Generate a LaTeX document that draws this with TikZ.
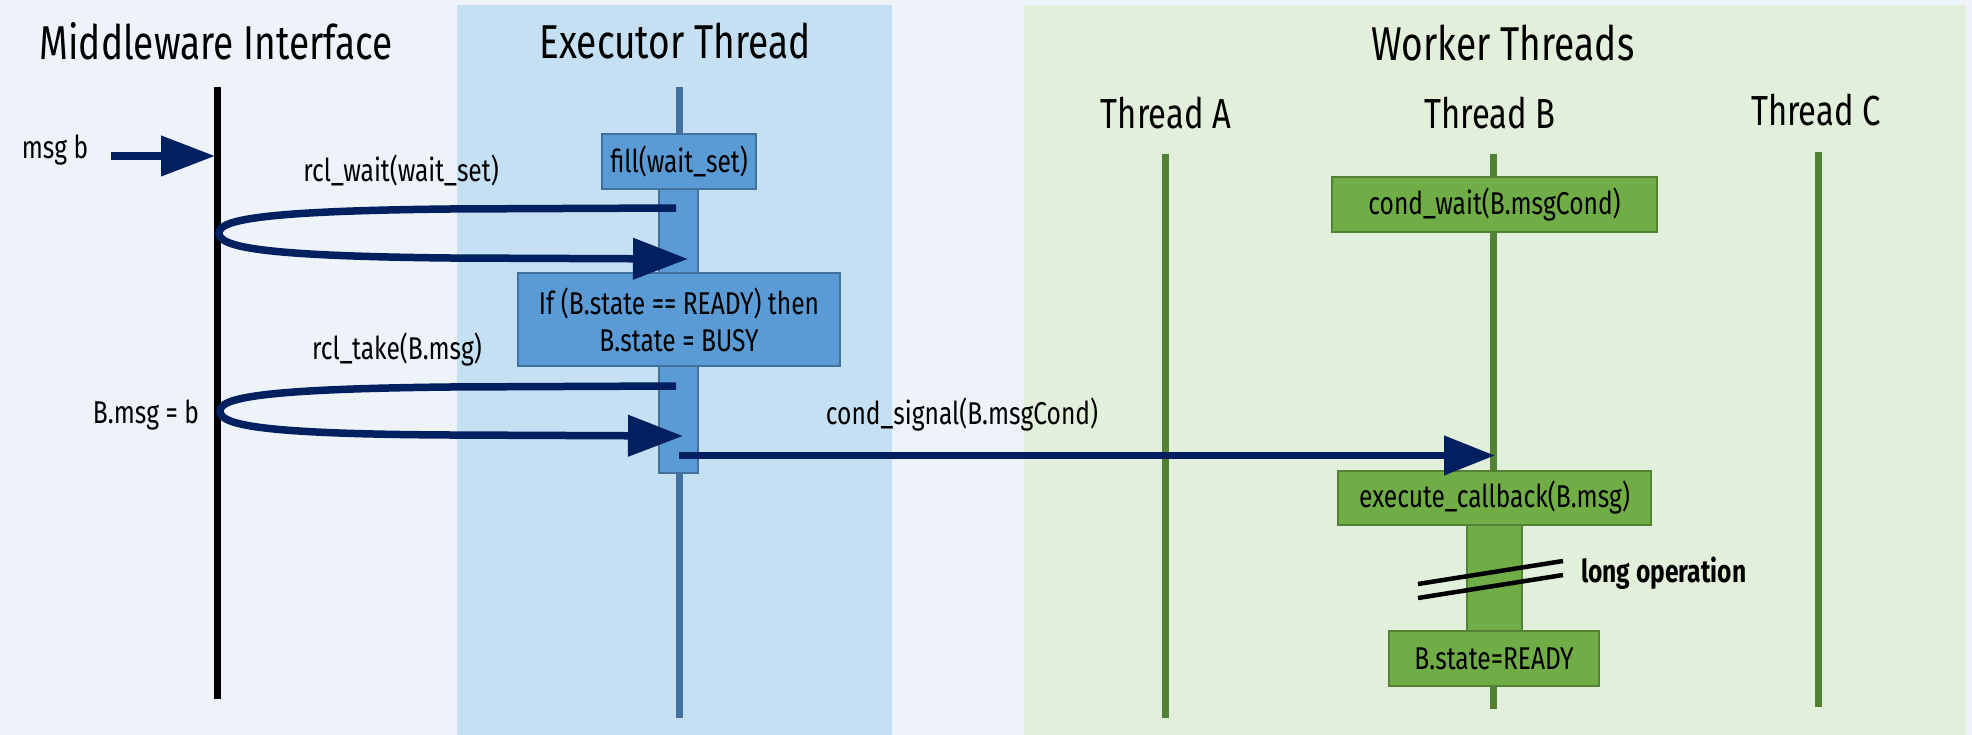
\documentclass[tikz,border=0pt]{standalone}
\usepackage{fontspec}
\setmainfont{Fira Sans}[FakeStretch=0.78]
\usetikzlibrary{arrows.meta}

\definecolor{paper}{HTML}{EEF2F9}
\definecolor{execband}{HTML}{C5E0F3}
\definecolor{workband}{HTML}{E2EFDA}
\definecolor{execline}{HTML}{41719C}
\definecolor{execfill}{HTML}{5B9BD5}
\definecolor{workline}{HTML}{548235}
\definecolor{workfill}{HTML}{70AD47}
\definecolor{navy}{HTML}{002060}

\tikzset{
  title/.style={font=\fontsize{47.5}{52}\selectfont, inner sep=0pt},
  threadlabel/.style={font=\fontsize{42}{46}\selectfont, inner sep=0pt},
  msglabel/.style={font=\fontsize{31.5}{36}\selectfont, inner sep=0pt},
  execbox/.style={draw=execline, fill=execfill, line width=2pt, inner sep=0pt,
    font=\fontsize{31.5}{37}\selectfont, align=center},
  workbox/.style={draw=workline, fill=workfill, line width=2pt, inner sep=0pt,
    font=\fontsize{31.5}{36}\selectfont, align=center},
  lifeline/.style={line width=7pt},
  callarrow/.style={draw=navy, line width=7.5pt,
    -{Triangle[length=55pt,width=40pt]}},
}

\begin{document}
\begin{tikzpicture}[x=1pt,y=-1pt]
  % canvas
  \useasboundingbox (0,0) rectangle (1972,735);
  \fill[paper] (0,0) rectangle (1972,735);

  % swim lanes
  \fill[execband] (457,5) rectangle (892,735);
  \fill[workband] (1024,5) rectangle (1966,735);

  % lane titles
  \node[title] (mwTitle) at (216,41) {Middleware Interface};
  \node[title] (exTitle) at (675,41) {Executor Thread};
  \node[title] (wkTitle) at (1503,43) {Worker Threads};
  \node[threadlabel] (thA) at (1166,113) {Thread A};
  \node[threadlabel] (thB) at (1490,113) {Thread B};
  \node[threadlabel] (thC) at (1816,110) {Thread C};

  % lifelines
  \coordinate (mwTop) at (217,87);   \coordinate (mwBot) at (217,699);
  \coordinate (exTop) at (679,87);   \coordinate (exBot) at (679,718);
  \coordinate (aTop) at (1165,154);  \coordinate (aBot) at (1165,718);
  \coordinate (bTop) at (1493,154);  \coordinate (bBot) at (1493,709);
  \coordinate (cTop) at (1818,152);  \coordinate (cBot) at (1818,707);
  \draw[lifeline, black] (mwTop) -- (mwBot);
  \draw[lifeline, execline] (exTop) -- (exBot);
  \draw[lifeline, workline] (aTop) -- (aBot);
  \draw[lifeline, workline] (bTop) -- (bBot);
  \draw[lifeline, workline] (cTop) -- (cBot);

  % executor activation and its steps
  \node[execbox, minimum width=39pt, minimum height=284pt] (exBar) at (678.5,331) {};
  \node[execbox, minimum width=154pt, minimum height=55pt] (fill) at (679,161.5) {fill(wait\_set)};
  \node[execbox, minimum width=322pt, minimum height=93pt] (check) at (679,319.5)
    {If (B.state == READY) then\\B.state = BUSY};

  % worker B activation and its steps
  \node[workbox, minimum width=325pt, minimum height=55pt] (wait) at (1494.5,204.5) {cond\_wait(B.msgCond)};
  \node[workbox, minimum width=55pt, minimum height=106pt] (wkBar) at (1494.5,578) {};
  \node[workbox, minimum width=313pt, minimum height=54pt] (exec) at (1494.5,498) {execute\_callback(B.msg)};
  \node[workbox, minimum width=210pt, minimum height=55pt] (ready) at (1494,658.5) {B.state=READY};

  % time-break marks over the long callback
  \draw[black, line width=4.5pt] (1418,584) -- (1563,561);
  \draw[black, line width=4.5pt] (1418,598) -- (1563,575);
  \node[msglabel, font=\fontsize{31.5}{36}\selectfont\bfseries, anchor=west] (longop) at (1581,573) {long operation};

  % incoming message
  \node[msglabel] (msgb) at (55,150) {msg b};
  \coordinate (msgStart) at (111,156);
  \coordinate (mwIn) at (215,156);
  \draw[callarrow, -{Triangle[length=54pt,width=39pt]}] (msgStart) -- (mwIn);

  % rcl_wait round trip
  \node[msglabel] (waitLbl) at (401,170) {rcl\_wait(wait\_set)};
  \coordinate (waitOut) at (676,208);
  \coordinate (waitTurn) at (219,233);
  \coordinate (waitBack) at (688,259);
  \draw[callarrow] (waitOut) -- (450,209)
    .. controls (260,211) and (219,220) .. (waitTurn)
    .. controls (219,247) and (260,256) .. (450,258) -- (waitBack);

  % rcl_take round trip
  \node[msglabel] (takeLbl) at (397,350) {rcl\_take(B.msg)};
  \node[msglabel] (assignLbl) at (146,415) {B.msg = b};
  \coordinate (takeOut) at (676,386);
  \coordinate (takeTurn) at (220,411);
  \coordinate (takeBack) at (683,436);
  \draw[callarrow] (takeOut) -- (450,387)
    .. controls (260,389) and (220,398) .. (takeTurn)
    .. controls (220,425) and (260,434) .. (450,435) -- (takeBack);

  % wake-up of worker B
  \node[msglabel] (sigLbl) at (962,415) {cond\_signal(B.msgCond)};
  \coordinate (sigOut) at (679,455.5);
  \coordinate (sigIn) at (1495,455.5);
  \draw[callarrow, -{Triangle[length=51pt,width=38pt]}] (sigOut) -- (sigIn);
\end{tikzpicture}
\end{document}
